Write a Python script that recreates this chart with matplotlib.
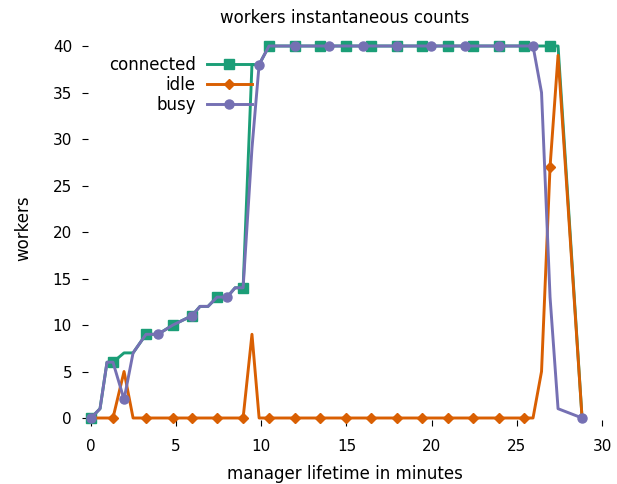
import matplotlib
matplotlib.use("Agg")
import matplotlib.pyplot as plt
from matplotlib.lines import Line2D

# sample times (minutes)
minutes = [0, 0.53, 0.94, 1.29, 1.94, 2.47, 3.23, 3.93, 4.81, 5.93, 6.4, 6.87,
           7.4, 7.99, 8.46, 8.93, 9.45, 9.87,
           10.45, 10.95, 11.45, 11.95, 12.45, 12.95, 13.45, 13.95, 14.45, 14.95,
           15.45, 15.95, 16.45, 16.95, 17.45, 17.95, 18.45, 18.95, 19.45, 19.95,
           20.45, 20.95, 21.45, 21.95, 22.45, 22.95, 23.45, 23.95, 24.45, 24.95,
           25.45, 25.95, 26.45, 26.95, 27.42, 28.83]

connected = [0, 1, 6, 6, 7, 7, 9, 9, 10, 11, 12, 12, 13, 13, 14, 14, 38, 38,
             40, 40, 40, 40, 40, 40, 40, 40, 40, 40, 40, 40, 40, 40, 40, 40, 40, 40,
             40, 40, 40, 40, 40, 40, 40, 40, 40, 40, 40, 40, 40, 40, 40, 40, 40, 0]

idle = [0, 0, 0, 0, 5, 0, 0, 0, 0, 0, 0, 0, 0, 0, 0, 0, 9, 0,
        0, 0, 0, 0, 0, 0, 0, 0, 0, 0, 0, 0, 0, 0, 0, 0, 0, 0,
        0, 0, 0, 0, 0, 0, 0, 0, 0, 0, 0, 0, 0, 0, 5, 27, 39, 0]

busy = [0, 1, 6, 6, 2, 7, 9, 9, 10, 11, 12, 12, 13, 13, 14, 14, 29, 38,
        40, 40, 40, 40, 40, 40, 40, 40, 40, 40, 40, 40, 40, 40, 40, 40, 40, 40,
        40, 40, 40, 40, 40, 40, 40, 40, 40, 40, 40, 40, 40, 40, 35, 13, 1, 0]

# which samples got a marker
connected_marks = [0, 3, 6, 8, 9, 12, 15] + list(range(18, 52, 3))
idle_marks = [3, 6, 8, 9, 12, 15] + list(range(18, 52, 3))
busy_marks = [0, 4, 7, 9, 13] + list(range(17, 54, 4))

green = "#1b9e77"
orange = "#d95f02"
purple = "#7570b3"

fig = plt.figure(figsize=(6.17, 4.84), dpi=100)
ax = fig.add_axes([88 / 617, 1 - 420 / 484, (602 - 88) / 617, (420 - 36.7) / 484])

ax.plot(minutes, connected, color=green, lw=2.1, marker="s", ms=6.5,
        markevery=connected_marks, clip_on=False)
ax.plot(minutes, idle, color=orange, lw=2.1, marker="D", ms=5.2,
        markevery=idle_marks, clip_on=False)
ax.plot(minutes, busy, color=purple, lw=2.1, marker="o", ms=6.5,
        markevery=busy_marks, clip_on=False)

ax.set_xlim(-0.176, 30)
ax.set_ylim(-0.215, 41)
ax.set_xticks([0, 5, 10, 15, 20, 25, 30])
ax.set_yticks([0, 5, 10, 15, 20, 25, 30, 35, 40])
for s in ax.spines.values():
    s.set_visible(False)
ax.tick_params(direction="out", length=4.5, width=0.8, labelsize=11)
ax.tick_params(axis="y", pad=7)
ax.tick_params(axis="x", pad=9)

ax.set_title("workers instantaneous counts", fontsize=12, pad=10)
ax.set_xlabel("manager lifetime in minutes", fontsize=12, labelpad=8)
ax.set_ylabel("workers", fontsize=12, labelpad=15)

handles = [
    Line2D([], [], color=green, lw=2.1, marker="s", ms=6.5),
    Line2D([], [], color=orange, lw=2.1, marker="D", ms=5.2),
    Line2D([], [], color=purple, lw=2.1, marker="o", ms=6.5),
]
fig.legend(handles, ["connected", "idle", "busy"], loc="upper right",
           bbox_to_anchor=(260 / 617, 1 - 48 / 484), frameon=False,
           markerfirst=False, borderpad=0, fontsize=12, handlelength=2.7,
           handletextpad=0.65, labelspacing=0.1)

fig.savefig("out.png", dpi=100)
